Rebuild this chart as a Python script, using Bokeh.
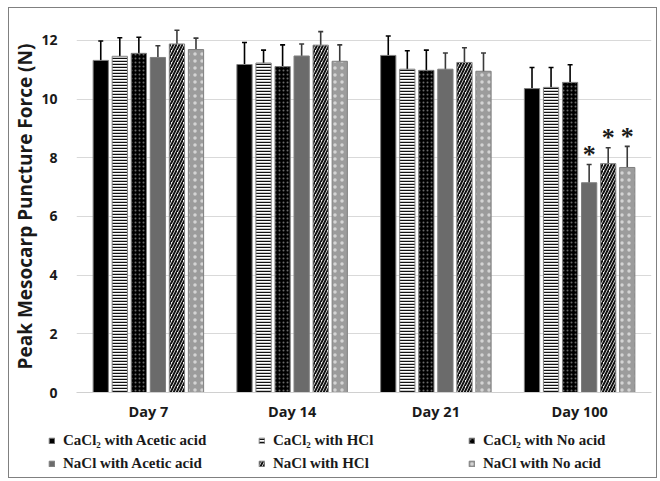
from bokeh.plotting import figure
from bokeh.models import (ColumnDataSource, FactorRange, Whisker, Legend, LegendItem,
                          FixedTicker, Range1d, TeeHead)
from bokeh.layouts import column
from bokeh.transform import dodge
from bokeh.core.properties import value
from bokeh.embed import file_html
from bokeh.resources import INLINE

days = ["Day 7", "Day 14", "Day 21", "Day 100"]
series_names = ["CaCl\u2082 with Acetic acid", "CaCl\u2082 with HCl", "CaCl\u2082 with No acid",
                "NaCl with Acetic acid", "NaCl with HCl", "NaCl with No acid"]

cacl2_acetic = [11.32, 11.18, 11.49, 10.36]
cacl2_acetic_err = [0.66, 0.75, 0.66, 0.72]
cacl2_hcl = [11.46, 11.23, 11.02, 10.40]
cacl2_hcl_err = [0.63, 0.44, 0.63, 0.68]
cacl2_none = [11.56, 11.11, 10.98, 10.57]
cacl2_none_err = [0.55, 0.74, 0.69, 0.60]
nacl_acetic = [11.42, 11.47, 11.02, 7.15]
nacl_acetic_err = [0.40, 0.41, 0.55, 0.62]
nacl_hcl = [11.88, 11.84, 11.25, 7.80]
nacl_hcl_err = [0.47, 0.46, 0.50, 0.54]
nacl_none = [11.69, 11.29, 10.95, 7.67]
nacl_none_err = [0.39, 0.56, 0.62, 0.72]
significant = [[False, False, False, False]] * 3 + [[False, False, False, True]] * 3

y_ticks = [0, 2, 4, 6, 8, 10, 12]

values_all = [cacl2_acetic, cacl2_hcl, cacl2_none, nacl_acetic, nacl_hcl, nacl_none]
errors_all = [cacl2_acetic_err, cacl2_hcl_err, cacl2_none_err, nacl_acetic_err, nacl_hcl_err, nacl_none_err]

styles = [
    dict(fill_color="black"),
    dict(fill_color="white", hatch_pattern="horizontal_line", hatch_color="#111111", hatch_scale=3, hatch_weight=1.5),
    dict(fill_color="black", hatch_pattern="dot", hatch_color="#6a6a6a", hatch_scale=4, hatch_weight=1),
    dict(fill_color="#6b6b6b"),
    dict(fill_color="white", hatch_pattern="right_diagonal_line", hatch_color="#111111", hatch_scale=6, hatch_weight=2),
    dict(fill_color="#9c9c9c", hatch_pattern="dot", hatch_color="#d4d4d4", hatch_scale=7, hatch_weight=1.5),
]
err_colors = ["black", "black", "black", "#3a3a3a", "#3a3a3a", "#3a3a3a"]

p = figure(width=647, height=416, x_range=FactorRange(factors=days, range_padding=0),
           y_range=Range1d(0, 12.68), output_backend="svg", toolbar_location=None,
           min_border_left=64, min_border_right=5, min_border_top=12, min_border_bottom=32)
p.outline_line_color = None
p.xgrid.grid_line_color = None
p.ygrid.grid_line_color = "#d9d9d9"
p.yaxis.ticker = FixedTicker(ticks=y_ticks)
p.yaxis.axis_line_color = None
p.yaxis.major_tick_line_color = None
p.yaxis.minor_tick_line_color = None
p.yaxis.major_label_standoff = 13
p.yaxis.major_label_text_font = "Open Sans"
p.yaxis.major_label_text_font_style = "bold"
p.yaxis.major_label_text_font_size = "14px"
p.yaxis.major_label_text_color = "#1a1a1a"
p.yaxis.axis_label = "Peak Mesocarp Puncture Force (N)"
p.yaxis.axis_label_text_font = "Open Sans"
p.yaxis.axis_label_text_font_style = "bold"
p.yaxis.axis_label_text_font_size = "19px"
p.yaxis.axis_label_text_color = "#1a1a1a"
p.yaxis.axis_label_standoff = 0
p.xaxis.axis_line_color = "#d0d0d0"
p.xaxis.major_tick_line_color = None
p.xaxis.minor_tick_line_color = None
p.xaxis.major_label_standoff = 3
p.xaxis.major_label_text_font = "Open Sans"
p.xaxis.major_label_text_font_style = "bold"
p.xaxis.major_label_text_font_size = "14.5px"
p.xaxis.major_label_text_color = "#1a1a1a"

pitch = 0.1325
width = 0.106

# legend-only strip below the chart (separate root, so its frame starts at its left edge)
pl = figure(width=647, height=53, x_range=Range1d(0, 1), y_range=Range1d(0, 1),
            x_axis_type=None, y_axis_type=None, output_backend="svg", toolbar_location=None,
            min_border=0, min_border_left=0, min_border_right=0, min_border_top=0, min_border_bottom=0)
pl.outline_line_color = None
pl.grid.visible = False

nan = float("nan")
items = []
for i, (vals, errs) in enumerate(zip(values_all, errors_all)):
    off = (i - 2.5) * pitch
    upper = [v + e for v, e in zip(vals, errs)]
    lower = [v - e for v, e in zip(vals, errs)]
    src = ColumnDataSource(dict(day=days, top=vals, upper=upper, lower=lower))
    p.vbar(x=dodge("day", off, range=p.x_range), top="top", width=width, source=src,
           line_color="#7f7f7f", line_width=1, **styles[i])
    w = Whisker(base=dodge("day", off, range=p.x_range), upper="upper", lower="lower", source=src,
                line_color=err_colors[i], line_width=1.6,
                upper_head=TeeHead(size=5, line_color=err_colors[i], line_width=1.6),
                lower_head=TeeHead(size=5, line_color=err_colors[i], line_width=1.6))
    p.add_layout(w)
    sig_days = [d for d, s in zip(days, significant[i]) if s]
    sig_y = [u for u, s in zip(upper, significant[i]) if s]
    if sig_days:
        ssrc = ColumnDataSource(dict(day=sig_days, y=sig_y, t=["*"] * len(sig_days)))
        p.text(x=dodge("day", off, range=p.x_range), y="y", text="t", source=ssrc,
               text_align="center", text_baseline="middle", y_offset=-10,
               text_font=value("Liberation Serif"), text_font_style="bold",
               text_font_size="26px", text_color="#1a1a1a")
    lr = pl.vbar(x=[nan], top=[nan], width=0.1, line_color="#7f7f7f", line_width=1, **styles[i])
    items.append(LegendItem(label=series_names[i], renderers=[lr]))

legend = Legend(items=items, ncols=3, orientation="horizontal", location=(39, 4),
                label_text_font="Liberation Serif", label_text_font_style="bold",
                label_text_font_size="15px", label_text_color="#1a1a1a",
                glyph_width=7, glyph_height=7, label_standoff=8, label_width=192,
                label_height=20, spacing=3, padding=3, margin=0,
                border_line_color=None, background_fill_alpha=0)
pl.add_layout(legend, "center")

bc = "1px solid #808080"
top_box = column(p, styles={"border-top": bc, "border-left": bc, "border-right": bc,
                            "margin-left": "8px", "margin-top": "7px"})
bottom_box = column(pl, styles={"border-bottom": bc, "border-left": bc, "border-right": bc,
                                "margin-left": "8px"})

open("out.html", "w").write(file_html([top_box, bottom_box], INLINE))
